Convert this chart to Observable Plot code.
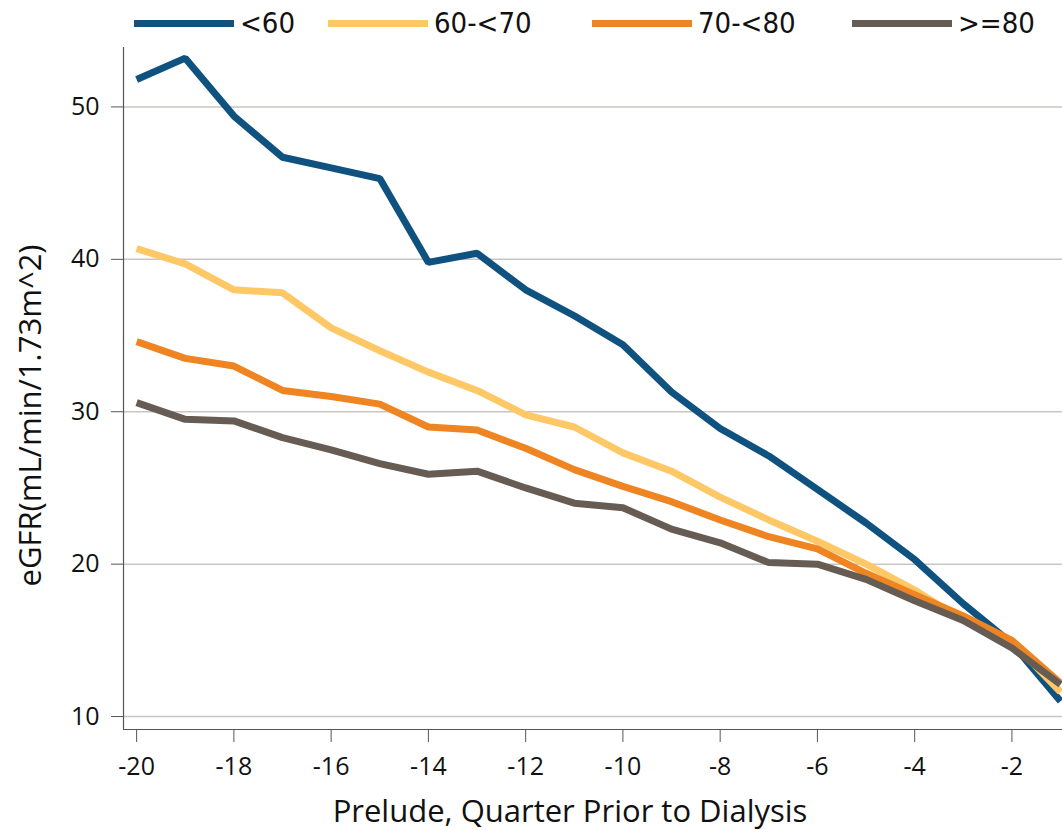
<!DOCTYPE html>
<html>
<head>
<meta charset="utf-8">
<script src="https://cdn.jsdelivr.net/npm/d3@7"></script>
<script src="https://cdn.jsdelivr.net/npm/@observablehq/plot@0.6"></script>
<style>
  body { margin: 0; background: #fff; font-family: "DejaVu Sans Condensed", "DejaVu Sans", sans-serif; }
  #legend { position: relative; height: 47px; width: 1062px; }
  .item { position: absolute; top: 6px; display: flex; align-items: center; font-size: 29px; color: #111; }
  .sw { width: 100px; height: 7px; margin-right: 6px; }
</style>
</head>
<body>
<div id="legend"></div>
<div id="chart"></div>
<script>
const quarters = [-20,-19,-18,-17,-16,-15,-14,-13,-12,-11,-10,-9,-8,-7,-6,-5,-4,-3,-2,-1];
const seriesNames = ["<60", "60-<70", "70-<80", ">=80"];
const seriesColors = ["#0f527f", "#fec866", "#ee8522", "#665c53"];
const lt60   = [51.8,53.2,49.4,46.7,46.0,45.3,39.8,40.4,38.0,36.3,34.4,31.3,28.9,27.1,24.9,22.7,20.3,17.4,14.8,11.0];
const r60_70 = [40.7,39.7,38.0,37.8,35.5,34.0,32.6,31.4,29.8,29.0,27.3,26.1,24.4,22.9,21.5,20.0,18.3,16.3,14.9,11.6];
const r70_80 = [34.6,33.5,33.0,31.4,31.0,30.5,29.0,28.8,27.6,26.2,25.1,24.1,22.9,21.8,21.0,19.4,18.0,16.6,15.0,12.2];
const ge80   = [30.6,29.5,29.4,28.3,27.5,26.6,25.9,26.1,25.0,24.0,23.7,22.3,21.4,20.1,20.0,19.0,17.6,16.3,14.5,12.1];
const yTicks = [10,20,30,40,50];
const xTicks = [-20,-18,-16,-14,-12,-10,-8,-6,-4,-2];
const xLabel = "Prelude, Quarter Prior to Dialysis";
const yLabel = "eGFR(mL/min/1.73m^2)";

const allSeries = [lt60, r60_70, r70_80, ge80];
const data = [];
allSeries.forEach((vals, si) => vals.forEach((v, i) => data.push({x: quarters[i], y: v, s: seriesNames[si]})));

// legend
const legendPos = [134, 328, 592, 852];
const leg = document.getElementById("legend");
seriesNames.forEach((n, i) => {
  const d = document.createElement("div");
  d.className = "item";
  d.style.left = legendPos[i] + "px";
  const sw = document.createElement("div");
  sw.className = "sw";
  sw.style.background = seriesColors[i];
  const t = document.createElement("span");
  t.textContent = n;
  d.appendChild(sw); d.appendChild(t);
  leg.appendChild(d);
});

const xMin = -20.27, xMax = -0.96, yMin = 9.15, yMax = 53.9;
const chart = Plot.plot({
  width: 1062,
  height: 783,
  marginTop: 0,
  marginLeft: 123,
  marginRight: 0,
  marginBottom: 101,
  style: {fontFamily: '"Open Sans", "Noto Sans", sans-serif', fontSize: "25px", color: "#111", background: "#fff"},
  x: {domain: [xMin, xMax]},
  y: {domain: [yMin, yMax]},
  color: {domain: seriesNames, range: seriesColors},
  marks: [
    Plot.ruleY(yTicks, {stroke: "#c9c5c1", strokeWidth: 1.5}),
    Plot.axisY({ticks: yTicks, tickSize: 12, tickPadding: 12, stroke: "#555", label: null, fontSize: 25}),
    Plot.axisX({ticks: xTicks, tickSize: 13, tickPadding: 15, stroke: "#555", label: null, fontSize: 25, tickFormat: d => String(d).replace("−", "-")}),
    Plot.ruleX([xMin], {stroke: "#555", strokeWidth: 1.2}),
    Plot.ruleY([yMin], {stroke: "#555", strokeWidth: 1.2}),
    Plot.line(data, {x: "x", y: "y", z: "s", stroke: "s", strokeWidth: 7, strokeLinejoin: "miter", strokeLinecap: "butt"}),
    Plot.text([xLabel], {frameAnchor: "bottom", lineAnchor: "middle", dy: 83, dx: -23, fontSize: 31, text: d => d}),
    Plot.text([yLabel], {frameAnchor: "left", textAnchor: "middle", lineAnchor: "middle", dx: -92, dy: 27, rotate: -90, fontSize: 31, text: d => d})
  ]
});
document.getElementById("chart").appendChild(chart);
</script>
</body>
</html>
